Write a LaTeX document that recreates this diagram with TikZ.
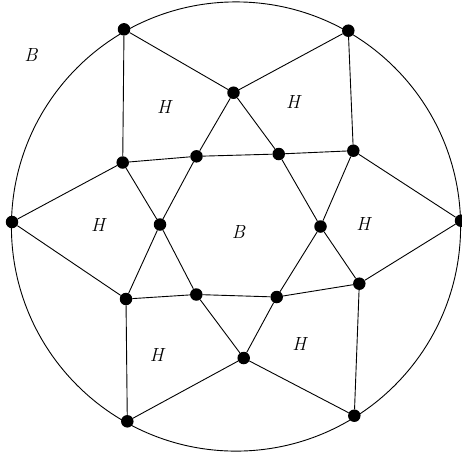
\documentclass[tikz,border=0pt]{standalone}
\usepackage{amsmath,amssymb}
\usepackage{xcolor}
\usepackage{tikz}
\usetikzlibrary{positioning,calc}

\begin{document}
\begin{tikzpicture}[
  x=1pt, y=-1pt,
  vert/.style={circle, fill=black, inner sep=0pt, minimum size=12.5pt},
  region/.style={font=\fontsize{19}{22}\selectfont\itshape, inner sep=0pt},
  edge/.style={line width=0.9pt},
]
\useasboundingbox (0,0) rectangle (462,456);
\draw[edge] (236,226.5) circle[radius=224.6pt];
% outer vertices on the circle
\node[vert] (o1) at (124,29.3) {};
\node[vert] (o2) at (348.3,30.7) {};
\node[vert] (o3) at (12,222) {};
\node[vert] (o4) at (461,220.7) {};
\node[vert] (o5) at (127.3,421.3) {};
\node[vert] (o6) at (354.3,415.7) {};
% inner vertices
\node[vert] (top) at (233.5,92.7) {};
\node[vert] (ul) at (122.7,162.5) {};
\node[vert] (ua) at (196.5,156.3) {};
\node[vert] (ub) at (278.7,154) {};
\node[vert] (ur) at (353.3,150.7) {};
\node[vert] (ml) at (160,224.5) {};
\node[vert] (mr) at (320.5,226.5) {};
\node[vert] (ll) at (126,299) {};
\node[vert] (la) at (196.3,294.5) {};
\node[vert] (lb) at (276.7,297) {};
\node[vert] (lr) at (359.3,283.7) {};
\node[vert] (bot) at (243.7,358) {};
% region labels
\node[region] (bout) at (31,55) {B};
\node[region] (bin) at (238.3,231.7) {B};
\node[region] (h1) at (164,107) {H};
\node[region] (h2) at (293,102) {H};
\node[region] (h3) at (98,225) {H};
\node[region] (h4) at (363.3,224.3) {H};
\node[region] (h5) at (156.7,354.7) {H};
\node[region] (h6) at (299.3,343.7) {H};
% edges
\draw[edge] (o1) -- (top) -- (o2);
\draw[edge] (o1) -- (ul) -- (o3) -- (ll) -- (o5) -- (bot) -- (o6) -- (lr) -- (o4) -- (ur) -- (o2);
\draw[edge] (top) -- (ua) -- (ml) -- (la) -- (bot) -- (lb) -- (mr) -- (ub) -- (top);
\draw[edge] (ul) -- (ua) -- (ub) -- (ur) -- (mr) -- (lr) -- (lb) -- (la) -- (ll) -- (ml) -- (ul);
\end{tikzpicture}
\end{document}
